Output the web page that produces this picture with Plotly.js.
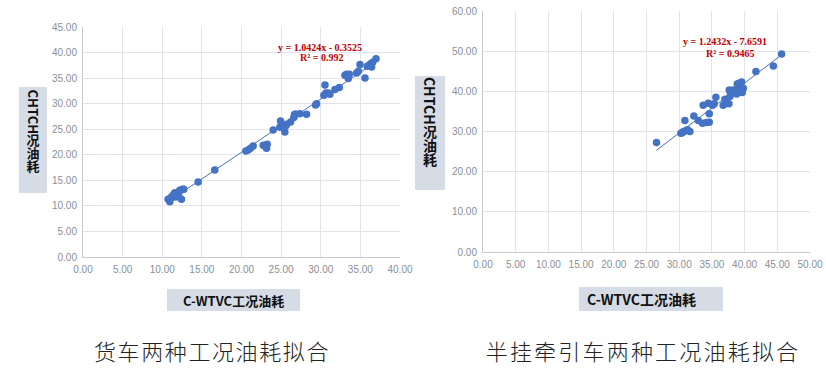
<!DOCTYPE html>
<html>
<head>
<meta charset="utf-8">
<script src="https://cdn.plot.ly/plotly-3.0.1.min.js"></script>
<style>html,body{margin:0;padding:0;background:#fff;}#chart{width:826px;height:369px;}</style>
</head>
<body>
<div id="chart"></div>
<script>
// Left chart: 货车 (truck)
const truckX = [10.74,10.95,11.16,11.37,11.58,11.70,11.87,12.08,12.21,12.42,12.55,12.72,11.05,11.50,
  14.53,16.63,20.55,20.84,21.14,21.47,22.74,22.95,23.16,23.24,24.00,24.84,24.93,25.47,25.60,25.68,
  26.19,26.60,26.69,26.78,27.37,28.21,29.35,29.47,30.40,30.53,30.65,30.95,31.16,31.79,32.34,
  33.05,33.26,33.47,33.60,34.53,34.74,34.95,35.58,35.87,36.13,36.29,36.42,36.55,36.97];
const truckY = [11.28,10.83,11.74,12.07,12.59,11.74,12.20,12.52,13.05,11.28,13.24,13.24,11.50,12.20,
  14.68,17.03,20.74,20.94,21.26,21.72,21.85,21.72,21.26,22.05,24.85,25.37,26.61,24.46,25.70,25.96,
  26.42,27.27,27.85,27.98,28.05,27.92,29.75,30.00,31.64,33.66,32.10,32.10,31.83,32.75,33.14,
  35.55,35.75,34.90,35.75,36.01,36.33,37.64,35.03,37.30,37.50,37.83,37.18,38.09,38.81];
const truckFit = {slope: 1.0424, intercept: -0.3525, r2: "0.992"};

// Right chart: 半挂牵引车 (semi-trailer tractor)
const tractorX = [26.53,30.26,30.61,30.97,30.87,31.28,31.63,30.45,32.24,32.91,33.57,33.67,34.18,34.44,
  34.59,34.59,35.10,35.36,35.61,36.73,36.99,37.60,37.65,37.76,37.86,38.01,38.27,38.52,38.78,38.88,
  39.03,39.18,39.39,39.54,39.64,39.80,41.73,44.39,45.66];
const tractorY = [27.26,29.59,29.92,30.17,32.73,30.41,30.00,29.70,33.89,32.73,32.07,36.55,32.24,37.04,
  34.39,32.32,36.55,36.88,38.53,36.55,38.03,36.88,40.36,38.70,39.36,39.94,40.36,39.69,39.36,41.85,
  40.36,42.02,41.02,42.35,39.69,40.77,44.92,46.33,49.31];
const tractorFit = {slope: 1.2432, intercept: -7.6591, r2: "0.9465"};

const yTitle = "CHTCH况油耗";
const xTitle = "C-WTVC工况油耗";
const caption1 = "货车两种工况油耗拟合";
const caption2 = "半挂牵引车两种工况油耗拟合";

const W = 826, H = 369;
const px = v => v / W;
const py = v => 1 - v / H;

const blue = '#4472c4';
function fitLine(xs, fit, xa, ya) {
  const x0 = Math.min(...xs), x1 = Math.max(...xs);
  return {x: [x0, x1], y: [fit.slope * x0 + fit.intercept, fit.slope * x1 + fit.intercept],
    mode: 'lines', line: {color: blue, width: 1}, xaxis: xa, yaxis: ya, hoverinfo: 'skip', showlegend: false};
}
const mk = {color: blue, size: 7.5};
const data = [
  fitLine(truckX, truckFit, 'x', 'y'),
  {x: truckX, y: truckY, mode: 'markers', marker: mk, xaxis: 'x', yaxis: 'y', showlegend: false},
  fitLine(tractorX, tractorFit, 'x2', 'y2'),
  {x: tractorX, y: tractorY, mode: 'markers', marker: mk, xaxis: 'x2', yaxis: 'y2', showlegend: false}
];

const tickFont = {family: 'Liberation Sans, Arial, sans-serif', size: 10, color: '#8a8f98'};
const gridC = '#e1e4ea', lineC = '#c6cad2';
function ax(domain, range, dtick, anchor) {
  return {domain: domain, range: range, dtick: dtick, tick0: 0, tickformat: '.2f',
    showgrid: true, gridcolor: gridC, gridwidth: 1, zeroline: false,
    showline: true, linecolor: lineC, linewidth: 1, ticks: '', tickfont: tickFont,
    anchor: anchor, fixedrange: true, ticklabelstandoff: 3};
}

const boxFill = '#d6dce5';
const shapes = [
  {type: 'rect', xref: 'paper', yref: 'paper', x0: px(19), x1: px(47), y0: py(193), y1: py(87), fillcolor: boxFill, line: {width: 0}, layer: 'below'},
  {type: 'rect', xref: 'paper', yref: 'paper', x0: px(415), x1: px(445), y0: py(190), y1: py(76), fillcolor: boxFill, line: {width: 0}, layer: 'below'},
  {type: 'rect', xref: 'paper', yref: 'paper', x0: px(167), x1: px(300), y0: py(311), y1: py(289), fillcolor: boxFill, line: {width: 0}, layer: 'below'},
  {type: 'rect', xref: 'paper', yref: 'paper', x0: px(579), x1: px(723), y0: py(311), y1: py(287), fillcolor: boxFill, line: {width: 0}, layer: 'below'}
];

const cjkBold = {family: 'Noto Sans CJK SC, sans-serif', size: 14, color: '#111', weight: 700};
const red = {family: 'Liberation Serif, Times New Roman, serif', size: 10, color: '#c00000', weight: 700};
function ann(text, x, y, font, extra) {
  return Object.assign({text: text, xref: 'paper', yref: 'paper', x: px(x), y: py(y),
    xanchor: 'center', yanchor: 'middle', showarrow: false, font: font}, extra || {});
}
const capFont = {family: 'Noto Sans CJK SC, sans-serif', size: 22, color: '#222', weight: 300};
// vertical y-axis titles: [page centre x, page centre y]
const vCentres = [[33, 132], [430, 122.5]];
const annotations = [
  ann(yTitle, 33, 132, Object.assign({}, cjkBold, {size: 13})),
  ann(yTitle, 430, 122, Object.assign({}, cjkBold, {size: 14})),
  ann(xTitle, 233, 300, Object.assign({}, cjkBold, {size: 13})),
  ann(xTitle, 641, 299, Object.assign({}, cjkBold, {size: 14})),
  ann('y = ' + truckFit.slope.toFixed(4) + 'x - ' + Math.abs(truckFit.intercept).toFixed(4), 320, 47, red),
  ann('R² = ' + truckFit.r2, 321, 57, red),
  ann('y = ' + tractorFit.slope.toFixed(4) + 'x - ' + Math.abs(tractorFit.intercept).toFixed(4), 725, 42, red),
  ann('R² = ' + tractorFit.r2, 730, 53, red),
  ann(caption1, 212, 350, capFont),
  ann(caption2, 643, 350, capFont)
];

const layout = {
  width: W, height: H, margin: {l: 0, r: 0, t: 0, b: 0},
  paper_bgcolor: '#fff', plot_bgcolor: '#fff', showlegend: false,
  xaxis: ax([px(83), px(400)], [0, 40], 5, 'y'),
  yaxis: ax([py(257), py(27)], [0, 45], 5, 'x'),
  xaxis2: ax([px(483), px(810)], [0, 50], 5, 'y2'),
  yaxis2: ax([py(252), py(11)], [0, 60], 10, 'x2'),
  shapes: shapes, annotations: annotations
};

Plotly.newPlot('chart', data, layout, {staticPlot: true}).then(() => {
  let vIdx = 0;
  const root = document.getElementById('chart').getBoundingClientRect();
  document.querySelectorAll('.annotation-text').forEach(t => {
    if (t.textContent === caption1) t.setAttribute('letter-spacing', '1.6');
    if (t.textContent === caption2) t.setAttribute('letter-spacing', '2.2');
    if (t.textContent === yTitle && vIdx < vCentres.length) {
      // vertical writing: CJK upright, Latin turned sideways (as in the reference)
      t.setAttribute('writing-mode', 'tb');
      t.style.writingMode = 'vertical-rl';
      t.style.textOrientation = 'mixed';
      t.setAttribute('text-anchor', 'middle');
      const r = t.getBoundingClientRect();
      const [cx, cy] = vCentres[vIdx++];
      const dx = cx - (r.left - root.left + r.width / 2);
      const dy = cy - (r.top - root.top + r.height / 2);
      const prev = t.getAttribute('transform') || '';
      t.setAttribute('transform', 'translate(' + dx + ',' + dy + ') ' + prev);
    }
  });
});
</script>
</body>
</html>
